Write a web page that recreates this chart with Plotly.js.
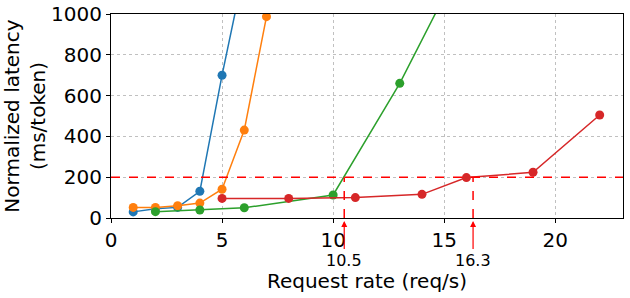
<!DOCTYPE html>
<html>
<head>
<meta charset="utf-8">
<script src="https://cdn.plot.ly/plotly-3.0.1.min.js"></script>
<style>
  html, body { margin: 0; padding: 0; background: #fff; }
  #chart { width: 630px; height: 298px; }
</style>
</head>
<body>
<div id="chart"></div>
<script>
// Valores (latencia normalizada, ms/token)
const blueX = [1, 2, 3, 4, 5, 6];
const blueY = [30, 45, 52, 131, 700, 1220];

const orangeX = [1, 2, 3, 4, 5, 6, 7, 8];
const orangeY = [52, 52, 60, 73, 141, 431, 987, 1800];

const greenX = [2, 4, 6, 10, 13, 16];
const greenY = [31, 39, 50, 113, 660, 1300];

const redX = [5, 8, 11, 14, 16, 19, 22];
const redY = [96, 96, 100, 116, 198, 224, 505];

const sloLevel = 200;
const capacityMarks = [10.5, 16.3];
const capacityLabels = ['10.5', '16.3'];

const xTicks = [0, 5, 10, 15, 20];
const yTicks = [0, 200, 400, 600, 800, 1000];

const font = 'DejaVu Sans, sans-serif';

function serie(x, y, color) {
  return {
    type: 'scatter',
    mode: 'lines+markers',
    x: x,
    y: y,
    line: { color: color, width: 1.5 },
    marker: { color: color, size: 9 },
    cliponaxis: true,
    showlegend: false
  };
}

const data = [
  serie(blueX, blueY, '#1f77b4'),
  serie(orangeX, orangeY, '#ff7f0e'),
  serie(greenX, greenY, '#2ca02c'),
  serie(redX, redY, '#d62728')
];

// Línea horizontal del SLO y líneas verticales hasta el eje
const shapes = [
  {
    type: 'line', xref: 'paper', yref: 'y',
    x0: 0, x1: 1, y0: sloLevel, y1: sloLevel,
    line: { color: '#ff0000', width: 1.5, dash: 'dash' }
  }
];
capacityMarks.forEach(function (v) {
  shapes.push({
    type: 'line', xref: 'x', yref: 'y',
    x0: v, x1: v, y0: 0, y1: sloLevel,
    line: { color: '#ff0000', width: 1.5, dash: 'dash' }
  });
});

const annotations = capacityMarks.map(function (v, i) {
  return {
    x: v, xref: 'x',
    y: -0.015, yref: 'paper',
    text: capacityLabels[i],
    showarrow: true,
    arrowhead: 2,
    arrowsize: 1,
    arrowwidth: 1.2,
    arrowcolor: '#ff0000',
    ax: 0, ay: 39,
    font: { family: font, size: 16, color: '#000' }
  };
});

const layout = {
  width: 630,
  height: 298,
  margin: { l: 111, r: 7, t: 14, b: 80 },
  paper_bgcolor: '#fff',
  plot_bgcolor: '#fff',
  font: { family: font, size: 20, color: '#000' },
  xaxis: {
    range: [0, 23.05],
    tickvals: xTicks,
    ticks: 'outside',
    ticklen: 4,
    tickcolor: '#000',
    showline: true,
    mirror: true,
    linecolor: '#000',
    linewidth: 1,
    showgrid: true,
    gridcolor: '#c0c0c0',
    griddash: 'dot',
    zeroline: false,
    tickfont: { family: font, size: 20 },
    title: { text: 'Request rate (req/s)', font: { family: font, size: 20 }, standoff: 22 }
  },
  yaxis: {
    range: [0, 1000],
    tickvals: yTicks,
    ticks: 'outside',
    ticklen: 4,
    tickcolor: '#000',
    showline: true,
    mirror: true,
    linecolor: '#000',
    linewidth: 1,
    showgrid: true,
    gridcolor: '#c0c0c0',
    griddash: 'dot',
    zeroline: false,
    tickfont: { family: font, size: 20 },
    title: { text: 'Normalized latency<br>(ms/token)', font: { family: font, size: 20 }, standoff: 4 }
  },
  shapes: shapes,
  annotations: annotations
};

Plotly.newPlot('chart', data, layout, { staticPlot: true, displayModeBar: false });
</script>
</body>
</html>
